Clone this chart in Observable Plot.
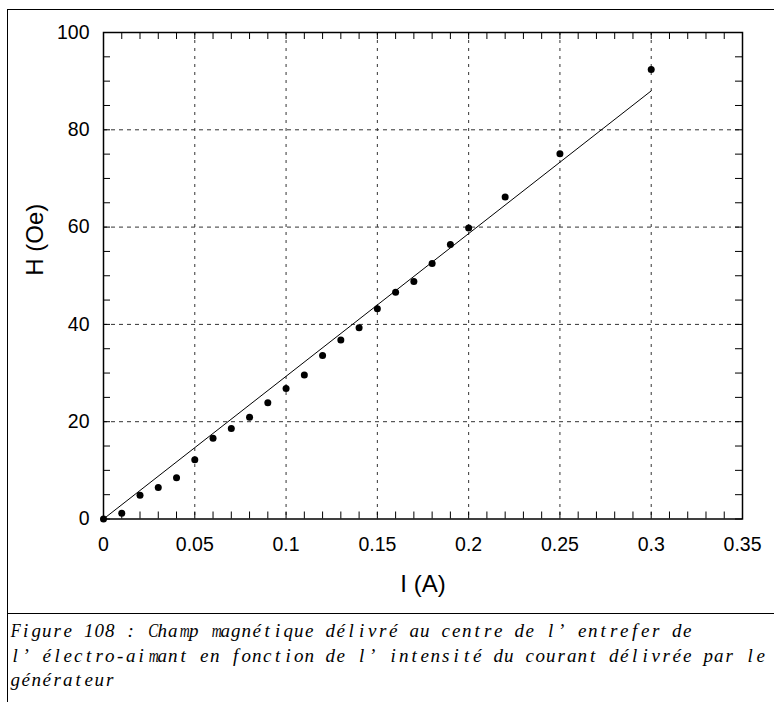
<!DOCTYPE html>
<html>
<head>
<meta charset="utf-8">
<script src="https://cdn.jsdelivr.net/npm/d3@7"></script>
<script src="https://cdn.jsdelivr.net/npm/@observablehq/plot@0.6"></script>
<style>
  html, body { margin: 0; padding: 0; background: white; }
  body { width: 774px; height: 702px; overflow: hidden; position: relative; }
  #chart { position: absolute; left: 0; top: 0; }
  #box { position: absolute; left: 6.5px; top: 8.5px; width: 820px; height: 605px; border: 1.5px solid black; box-sizing: border-box; }
  #leftline { position: absolute; left: 6.5px; top: 613px; width: 0; height: 100px; border-left: 1.5px solid black; }
  #caption { position: absolute; left: 10px; top: 619px; font-family: "Liberation Serif", "DejaVu Serif", serif; font-style: italic; font-size: 19px; line-height: 24.5px; color: black; white-space: pre; }
  #caption .c { display: inline-block; width: 10.5px; text-align: center; }
  #caption .c span { display: inline-block; transform-origin: center; }
  #caption .fw { display: inline-block; width: 21px; text-align: left; padding-left: 2px; box-sizing: border-box; }
</style>
</head>
<body>
<div id="chart"></div>
<div id="box"></div>
<div id="leftline"></div>
<div id="caption"></div>
<script>
// Measured data: current I (A) and field H (Oe)
const current = [0, 0.01, 0.02, 0.03, 0.04, 0.05, 0.06, 0.07, 0.08, 0.09, 0.10, 0.11, 0.12, 0.13, 0.14, 0.15, 0.16, 0.17, 0.18, 0.19, 0.20, 0.22, 0.25, 0.30];
const field   = [0, 1.2, 4.9, 6.5, 8.5, 12.2, 16.6, 18.6, 20.9, 23.9, 26.8, 29.6, 33.6, 36.8, 39.3, 43.2, 46.6, 48.8, 52.5, 56.4, 59.8, 66.2, 75.1, 92.4];
// Linear fit line end points
const fitCurrent = [0, 0.3];
const fitField = [0, 88];
// Tick values
const xMajor = [0, 0.05, 0.1, 0.15, 0.2, 0.25, 0.3, 0.35];
const yMajor = [0, 20, 40, 60, 80, 100];
const xMinor = d3.range(0, 36).map(i => i / 100);
const yMinor = d3.range(0, 101, 5);
const xLabel = "I (A)";
const yLabel = "H (Oe)";
const captionLines = [
  "Figure 108 : Champ magnétique délivré au centre de l’entrefer de",
  "l’électro-aimant en fonction de l’intensité du courant délivrée par le",
  "générateur"
];

const points = current.map((c, i) => ({I: c, H: field[i]}));
const fit = fitCurrent.map((c, i) => ({I: c, H: fitField[i]}));

const W = 774, Ht = 615, mL = 103, mR = 32, mT = 32, mB = 96.5;
const innerW = W - mL - mR, innerH = Ht - mT - mB;
const tk = 7;

const chart = Plot.plot({
  width: W, height: Ht,
  marginLeft: mL, marginRight: mR, marginTop: mT, marginBottom: mB,
  x: {domain: [0, 0.35]},
  y: {domain: [0, 100]},
  style: {fontFamily: "'Liberation Sans', Arial, sans-serif", fontSize: "19.5px", background: "transparent", color: "black", overflow: "visible"},
  marks: [
    Plot.ruleX(xMajor.slice(1, -1), {stroke: "#333", strokeWidth: 1, strokeDasharray: "3,5"}),
    Plot.ruleY(yMajor.slice(1, -1), {stroke: "#333", strokeWidth: 1, strokeDasharray: "4,4"}),
    Plot.ruleX(xMinor, {insetTop: innerH - tk, stroke: "black"}),
    Plot.ruleX(xMinor, {insetBottom: innerH - tk, stroke: "black"}),
    Plot.ruleY(yMinor, {insetRight: innerW - tk, stroke: "black"}),
    Plot.ruleY(yMinor, {insetLeft: innerW - tk, stroke: "black"}),
    Plot.line(fit, {x: "I", y: "H", stroke: "black", strokeWidth: 1}),
    Plot.dot(points, {x: "I", y: "H", r: 3.5, fill: "black", stroke: "none"}),
    Plot.frame({stroke: "black", strokeWidth: 1.5}),
    Plot.axisX(xMajor, {tickSize: 0, tickPadding: 18, tickFormat: d => String(d), label: null, fontSize: 19.5}),
    Plot.axisY(yMajor, {tickSize: 0, tickPadding: 14, tickFormat: d => String(d), label: null, fontSize: 19.5}),
    Plot.text([yLabel], {text: d => d, frameAnchor: "left", dx: -68, rotate: -90, fontSize: 24}),
    Plot.text([xLabel], {text: d => d, frameAnchor: "bottom", dy: 73, fontSize: 24})
  ]
});
document.getElementById("chart").appendChild(chart);

// Caption: fixed-width character cells (mimicking the original monospaced CJK font)
const cap = document.getElementById("caption");
const ctx = document.createElement("canvas").getContext("2d");
ctx.font = "italic 19px 'Liberation Serif', 'DejaVu Serif', serif";
const maxW = 10;
captionLines.forEach((line, li) => {
  for (const ch of line) {
    const s = document.createElement("span");
    if (ch === "’") {
      s.className = "fw";
      s.textContent = ch;
    } else {
      s.className = "c";
      const inner = document.createElement("span");
      inner.textContent = ch === " " ? "\u00a0" : ch;
      const w = ctx.measureText(ch).width;
      if (w > maxW) inner.style.transform = `scaleX(${(maxW / w).toFixed(3)})`;
      s.appendChild(inner);
    }
    cap.appendChild(s);
  }
  if (li < captionLines.length - 1) cap.appendChild(document.createElement("br"));
});
</script>
</body>
</html>
